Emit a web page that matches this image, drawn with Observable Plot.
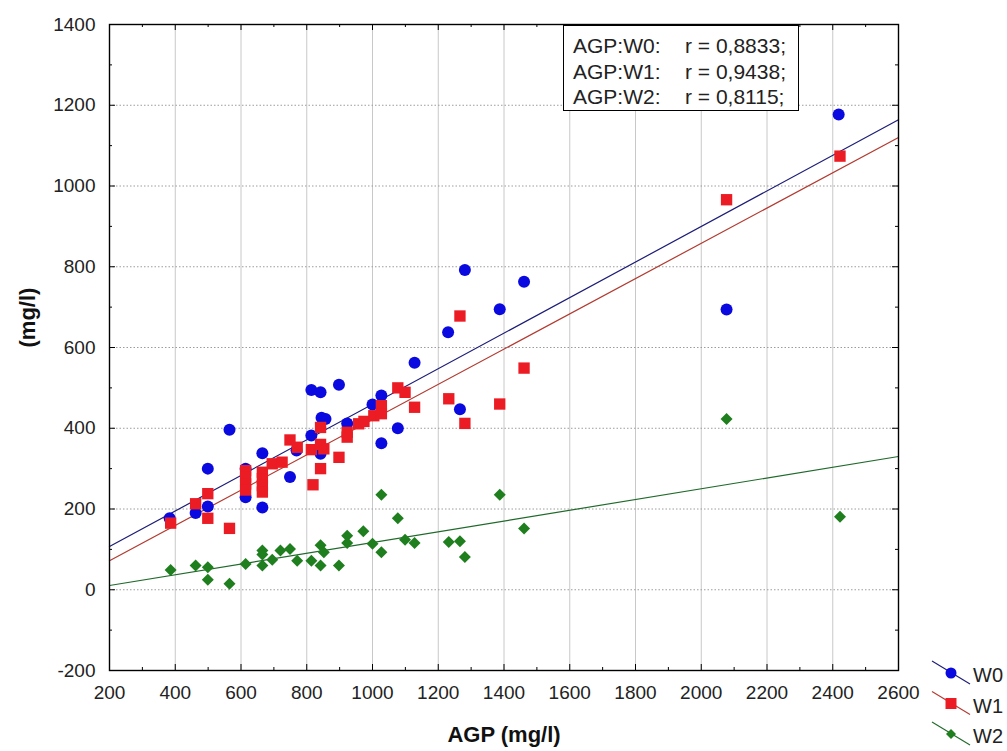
<!DOCTYPE html>
<html><head><meta charset="utf-8">
<script src="https://cdn.jsdelivr.net/npm/d3@7"></script>
<script src="https://cdn.jsdelivr.net/npm/@observablehq/plot@0.6"></script>
<style>
body{margin:0;background:#fff;font-family:"Liberation Sans",Arial,sans-serif;}
#wrap{position:relative;width:1007px;height:751px;overflow:hidden;background:#fff}
#rbox{position:absolute;left:563px;top:25px;width:236px;height:86px;border:1px solid #000;background:#fff;font-size:21px;color:#222;padding-top:7px;box-sizing:border-box;}
#rbox .row{position:relative;height:25.5px;line-height:25.5px;white-space:nowrap}
#rbox .a{position:absolute;left:9px}
#rbox .b{position:absolute;left:121px}
#legend{position:absolute;left:0;top:0}
</style></head>
<body><div id="wrap"></div>
<script>
// ---- data ----
const seriesNames = ["W0", "W1", "W2"];
const seriesColors = ["#0a0ae0", "#ec1c24", "#1f7f1f"];
const lineColors = ["#1c1c78", "#b23a30", "#1f6a2a"];
const rValues = ["0,8833", "0,9438", "0,8115"];

const w0 = [[383,177],[462,190],[499,300],[499,206],[565,396],[614,300],[614,229],[665,338],[665,204],
  [749,279],[769,345],[814,495],[842,489],[898,508],[814,382],[845,426],[857,423],[842,337],[923,412],
  [1000,459],[1027,481],[1027,363],[1077,400],[1128,562],[1230,638],[1266,447],[1281,792],[1387,695],
  [1461,763],[2077,694],[2418,1177]];
const w1 = [[386,165],[462,213],[499,238],[499,177],[565,152],[614,295],[614,279],[614,262],[614,247],
  [665,291],[665,275],[665,258],[665,242],[695,312],[725,316],[749,371],[771,353],[814,347],[819,260],
  [842,402],[842,300],[852,349],[842,360],[898,328],[923,390],[923,378],[958,411],[974,417],[1004,431],
  [1027,456],[1027,436],[1077,500],[1099,489],[1128,452],[1232,473],[1266,678],[1281,412],[1387,460],
  [1461,549],[2077,966],[2422,1074]];
const w2 = [[386,49],[462,60],[499,56],[499,25],[565,15],[614,64],[665,97],[665,87],[665,60],[695,74],
  [720,97],[749,101],[771,72],[814,72],[842,110],[842,60],[852,93],[898,60],[923,134],[923,116],
  [972,145],[1000,114],[1027,93],[1027,235],[1077,177],[1099,124],[1128,116],[1232,118],[1266,120],
  [1281,81],[1387,235],[1461,152],[2077,423],[2422,181]];

// fitted regression lines: value at the left and right edge of the x range
const fitLeft = [107, 72, 10.5];
const fitRight = [1164, 1120, 330];

const xTicks = [200,400,600,800,1000,1200,1400,1600,1800,2000,2200,2400,2600];
const xMinor = [300,500,700,900,1100,1300,1500,1700,1900,2100,2300,2500];
const yTicks = [-200,0,200,400,600,800,1000,1200,1400];
const yMinor = [-100,100,300,500,700,900,1100,1300];
const xLabel = "AGP (mg/l)";
const yLabel = "(mg/l)";

// ---- layout ----
const W = 1007, H = 751, mL = 109, mR = 109, mT = 24, mB = 81;
const plotW = W - mL - mR, plotH = H - mT - mB;
const xDomain = [xTicks[0], xTicks[xTicks.length - 1]];

const fitData = seriesNames.flatMap((s, i) => [
  {s, x: xDomain[0], y: fitLeft[i]},
  {s, x: xDomain[1], y: fitRight[i]}
]);

const diamond = {
  draw(ctx, size) {
    const r = Math.sqrt(size / Math.PI);
    ctx.moveTo(0, -r); ctx.lineTo(r, 0); ctx.lineTo(0, r); ctx.lineTo(-r, 0); ctx.closePath();
  }
};

const chart = Plot.plot({
  width: W, height: H,
  marginLeft: mL, marginRight: mR, marginTop: mT, marginBottom: mB,
  style: {fontFamily: "'Liberation Sans', Arial, sans-serif", fontSize: "19px", color: "#222", background: "#fff"},
  x: {domain: xDomain},
  y: {domain: [yTicks[0], yTicks[yTicks.length - 1]]},
  marks: [
    Plot.ruleX(xTicks, {stroke: "#c8c8c8", strokeWidth: 1}),
    Plot.ruleY(yTicks, {stroke: "#9c9c9c", strokeWidth: 1, strokeDasharray: "1.5,2"}),
    Plot.line(fitData, {x: "x", y: "y", z: "s", stroke: d => lineColors[seriesNames.indexOf(d.s)], strokeWidth: 1.2}),
    Plot.dot(w0, {x: d => d[0], y: d => d[1], r: 6, symbol: "circle", fill: seriesColors[0], stroke: null}),
    Plot.dot(w1, {x: d => d[0], y: d => d[1], r: 6.4, symbol: "square", fill: seriesColors[1], stroke: null}),
    Plot.dot(w2, {x: d => d[0], y: d => d[1], r: 6, symbol: diamond, fill: seriesColors[2], stroke: null}),
    // inward ticks on all four sides
    Plot.ruleX(xTicks, {insetTop: plotH - 6, stroke: "#000"}),
    Plot.ruleX(xTicks, {insetBottom: plotH - 6, stroke: "#000"}),
    Plot.ruleX(xMinor, {insetTop: plotH - 3, stroke: "#000"}),
    Plot.ruleX(xMinor, {insetBottom: plotH - 3, stroke: "#000"}),
    Plot.ruleY(yTicks, {insetRight: plotW - 6, stroke: "#000"}),
    Plot.ruleY(yTicks, {insetLeft: plotW - 6, stroke: "#000"}),
    Plot.ruleY(yMinor, {insetRight: plotW - 3, stroke: "#000"}),
    Plot.ruleY(yMinor, {insetLeft: plotW - 3, stroke: "#000"}),
    Plot.frame({stroke: "#000", strokeWidth: 1.4}),
    Plot.axisX({ticks: xTicks, tickSize: 0, tickPadding: 15, label: null, tickFormat: d => String(d), fill: "#222"}),
    Plot.axisY({ticks: yTicks, tickSize: 0, tickPadding: 14, label: null, tickFormat: d => String(d), fill: "#222"}),
    Plot.text([xLabel], {text: d => d, frameAnchor: "bottom", dy: 71, fontWeight: "bold", fontSize: 22, fill: "#111"}),
    Plot.text([yLabel], {text: d => d, frameAnchor: "left", dx: -82, rotate: -90, fontWeight: "bold", fontSize: 22, fill: "#111"})
  ]
});

const wrap = document.getElementById("wrap");
wrap.appendChild(chart);

// r-value box
const box = document.createElement("div");
box.id = "rbox";
seriesNames.forEach((s, i) => {
  const row = document.createElement("div");
  row.className = "row";
  row.innerHTML = `<span class="a">AGP:${s}:</span><span class="b">r = ${rValues[i]};</span>`;
  box.appendChild(row);
});
wrap.appendChild(box);

// legend (bottom right, outside plot)
const lg = d3.select(wrap).append("svg").attr("id", "legend").attr("width", W).attr("height", H)
  .style("position", "absolute").style("left", 0).style("top", 0).style("pointer-events", "none");
const shapes = [d3.symbolCircle, d3.symbolSquare, diamond];
const sizes = [Math.PI * 5.5 * 5.5, 121, Math.PI * 5 * 5];
seriesNames.forEach((s, i) => {
  const cy = 673 + i * 30.5;
  const g = lg.append("g");
  g.append("line").attr("x1", 932).attr("y1", cy - 12).attr("x2", 970).attr("y2", cy + 11)
    .attr("stroke", lineColors[i]).attr("stroke-width", 1.1);
  g.append("path").attr("transform", `translate(951,${cy})`)
    .attr("d", d3.symbol(shapes[i], sizes[i])()).attr("fill", seriesColors[i]);
  g.append("text").attr("x", 973).attr("y", cy + 4).attr("dominant-baseline", "middle")
    .attr("font-size", 20).attr("fill", "#222")
    .attr("font-family", "'Liberation Sans', Arial, sans-serif").text(s);
});
</script>
</body></html>
